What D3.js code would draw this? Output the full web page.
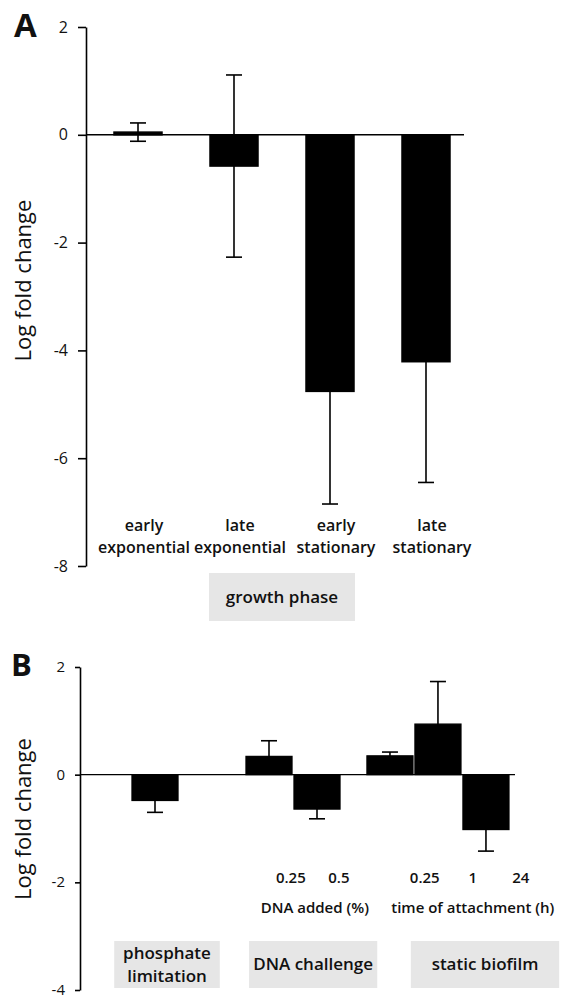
<!DOCTYPE html>
<html><head><meta charset="utf-8">
<script src="https://cdn.jsdelivr.net/npm/d3@7"></script>
<style>
body{margin:0;background:#fff}
svg{display:block}
text{font-family:"Open Sans",sans-serif;fill:#111}
</style>
</head><body>
<svg id="c" width="565" height="999"></svg>
<script>
// ---------- Panel A data ----------
const phasesA = ["early exponential", "late exponential", "early stationary", "late stationary"];
const phaseLinesA = [["early", "exponential"], ["late", "exponential"], ["early", "stationary"], ["late", "stationary"]];
const meansA = [0.05, -0.58, -4.76, -4.21];
const errsA = [0.17, 1.69, 2.09, 2.24];
const ticksA = [2, 0, -2, -4, -6, -8];
const groupA = "growth phase";

// ---------- Panel B data ----------
const conditionsB = ["phosphate limitation", "DNA 0.25%", "DNA 0.5%", "attachment 0.25 h", "attachment 1 h", "attachment 24 h"];
const condGroupB = [0, 1, 1, 2, 2, 2];
const condLabelsB = ["", "0.25", "0.5", "0.25", "1", "24"];
const meansB = [-0.48, 0.34, -0.64, 0.35, 0.94, -1.02];
const errsB = [0.22, 0.29, 0.18, 0.07, 0.79, 0.40];
const groupsB = [["phosphate", "limitation"], ["DNA challenge"], ["static biofilm"]];
const subtitlesB = ["", "DNA added (%)", "time of attachment (h)"];
const ticksB = [2, 0, -2, -4];

// ---------- layout (slot units for panel B) ----------
const groupGapSlotsB = [0, 1.375, 0.52];
const boxSlotsB = [[-0.85, 1.35], [1.96, 4.63], [5.33, 8.42]];
const subtitleSlotB = [null, 3.33, 6.62];

const svg = d3.select("#c");
const fmt = d => String(d);

function styleAxis(g, fs, dy) {
  g.select(".domain").attr("stroke", "#000").attr("stroke-width", 1.6);
  g.selectAll(".tick line").attr("stroke", "#000").attr("stroke-width", 1.6);
  g.selectAll(".tick text").attr("font-size", fs).attr("dy", dy)
    .attr("font-family", '"Open Sans",sans-serif').attr("fill", "#111");
}

function errorBars(g, data, xc, y, cap) {
  const e = g.selectAll("g.err").data(data).join("g").attr("class", "err")
    .attr("stroke", "#000").attr("stroke-width", 1.6);
  e.append("line").attr("x1", d => xc(d)).attr("x2", d => xc(d))
    .attr("y1", d => y(d.m - d.e)).attr("y2", d => y(d.m + d.e));
  e.append("line").attr("x1", d => xc(d) - cap / 2).attr("x2", d => xc(d) + cap / 2)
    .attr("y1", d => y(d.m + d.e)).attr("y2", d => y(d.m + d.e));
  e.append("line").attr("x1", d => xc(d) - cap / 2).attr("x2", d => xc(d) + cap / 2)
    .attr("y1", d => y(d.m - d.e)).attr("y2", d => y(d.m - d.e));
}

// ================= Panel A =================
{
  const axisX = 86;
  const y = d3.scaleLinear().domain([-8, 2]).range([566, 27]);
  const x = d3.scaleBand().domain(phasesA).range([90, 474]).paddingInner(0.5).paddingOuter(0.25);
  const data = phasesA.map((c, i) => ({c, m: meansA[i], e: errsA[i], lines: phaseLinesA[i]}));
  const xc = d => x(d.c) + x.bandwidth() / 2;
  const g = svg.append("g");

  errorBars(g, data, xc, y, 16);
  g.selectAll("rect.bar").data(data).join("rect").attr("class", "bar")
    .attr("x", d => x(d.c)).attr("width", x.bandwidth())
    .attr("y", d => y(Math.max(0, d.m))).attr("height", d => Math.abs(y(d.m) - y(0)))
    .attr("fill", "#000").attr("stroke", "#000").attr("stroke-width", 1.5);
  g.append("line").attr("x1", axisX).attr("x2", x.range()[1] - 10)
    .attr("y1", y(0)).attr("y2", y(0)).attr("stroke", "#000").attr("stroke-width", 1.4);

  const ax = g.append("g").attr("transform", `translate(${axisX},0)`)
    .call(d3.axisLeft(y).tickValues(ticksA).tickSize(8).tickSizeOuter(0).tickPadding(10).tickFormat(fmt));
  styleAxis(ax, 16, "0.32em");

  // category labels
  const lab = g.selectAll("text.cat").data(data).join("text").attr("class", "cat")
    .attr("text-anchor", "middle").attr("font-size", 16).attr("font-weight", 600);
  lab.append("tspan").attr("x", d => xc(d) + 6).attr("y", 531).text(d => d.lines[0]);
  lab.append("tspan").attr("x", d => xc(d) + 6).attr("y", 553).text(d => d.lines[1]);

  // group box
  const mid = d3.mean(data, xc);
  const bw = x.step() * 1.52;
  g.append("rect").attr("x", mid - bw / 2).attr("width", bw).attr("y", 573).attr("height", 48).attr("fill", "#e6e6e6");
  g.append("text").attr("x", mid).attr("y", 603).attr("text-anchor", "middle")
    .attr("font-size", 17).attr("font-weight", 600).text(groupA);

  g.append("text").attr("transform", `translate(31,${(y.range()[0] + y.range()[1]) / 2 - 16}) rotate(-90)`)
    .attr("text-anchor", "middle").attr("font-size", 22).text("Log fold change");
  g.append("text").attr("x", 14).attr("y", 37).attr("font-size", 33).attr("font-weight", 700).text("A");
}

// ================= Panel B =================
{
  const axisX = 80;
  const y = d3.scaleLinear().domain([-4, 2]).range([990, 667]);
  const x = d3.scaleLinear().domain([-1.5625, 7.5]).range([axisX, 515]);
  let cum = 0;
  const groupOffset = groupGapSlotsB.map(gp => (cum += gp));
  const data = conditionsB.map((c, i) => ({c, m: meansB[i], e: errsB[i], slot: i + groupOffset[condGroupB[i]], lab: condLabelsB[i], grp: condGroupB[i]}));
  const xc = d => x(d.slot);
  const bw = x(0.96) - x(0);
  const g = svg.append("g");

  errorBars(g, data, xc, y, 16);
  g.selectAll("rect.bar").data(data).join("rect").attr("class", "bar")
    .attr("x", d => xc(d) - bw / 2).attr("width", bw)
    .attr("y", d => y(Math.max(0, d.m))).attr("height", d => Math.abs(y(d.m) - y(0)))
    .attr("fill", "#000").attr("stroke", "#000").attr("stroke-width", 1.2);
  g.append("line").attr("x1", axisX).attr("x2", x.range()[1])
    .attr("y1", y(0)).attr("y2", y(0)).attr("stroke", "#000").attr("stroke-width", 1.4);

  const ax = g.append("g").attr("transform", `translate(${axisX},0)`)
    .call(d3.axisLeft(y).tickValues(ticksB).tickSize(5).tickSizeOuter(0).tickPadding(10).tickFormat(fmt));
  styleAxis(ax, 15, "0.3em");

  // numeric labels, centred under each group's subtitle
  data.filter(d => d.lab !== "").forEach(d => {
    const members = data.filter(o => o.grp === d.grp);
    const j = members.indexOf(d);
    const cx = x(subtitleSlotB[d.grp] + j - (members.length - 1) / 2);
    g.append("text").attr("x", cx).attr("y", 883).attr("text-anchor", "middle")
      .attr("font-size", 15).attr("font-weight", 600).text(d.lab);
  });
  subtitlesB.forEach((s, i) => {
    if (!s) return;
    g.append("text").attr("x", x(subtitleSlotB[i])).attr("y", 913).attr("text-anchor", "middle")
      .attr("font-size", 15).attr("font-weight", 600).text(s);
  });

  groupsB.forEach((lines, i) => {
    const [a, b] = boxSlotsB[i];
    g.append("rect").attr("x", x(a)).attr("width", x(b) - x(a)).attr("y", 941).attr("height", 47).attr("fill", "#e6e6e6");
    const cx = (x(a) + x(b)) / 2;
    const t = g.append("text").attr("text-anchor", "middle").attr("font-size", 17).attr("font-weight", 600);
    if (lines.length === 2) {
      t.append("tspan").attr("x", cx).attr("y", 959).text(lines[0]);
      t.append("tspan").attr("x", cx).attr("y", 982).text(lines[1]);
    } else {
      t.append("tspan").attr("x", cx).attr("y", 970).text(lines[0]);
    }
  });

  g.append("text").attr("transform", `translate(31,819) rotate(-90)`)
    .attr("text-anchor", "middle").attr("font-size", 22).text("Log fold change");
  g.append("text").attr("x", 11).attr("y", 676).attr("font-size", 31).attr("font-weight", 700).text("B");
}
</script>
</body></html>
